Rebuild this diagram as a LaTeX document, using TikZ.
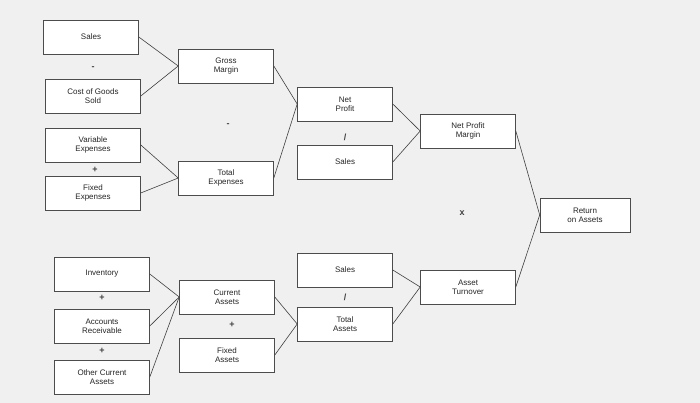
\documentclass[tikz,border=0pt]{standalone}
\usepackage{fontspec}
\setmainfont{Liberation Sans}
\begin{document}
\begin{tikzpicture}[x=1pt,y=-1pt,
  bx/.style={draw=black!70,fill=white,line width=0.6pt,minimum width=95pt,minimum height=34pt,align=center,font=\fontsize{8}{9}\selectfont,text=black!85,inner sep=1pt},
  op/.style={font=\fontsize{9}{9}\selectfont\bfseries,text=black!75},
  ln/.style={draw=black!75,line width=0.6pt}]
\fill[black!6] (0,0) rectangle (700,403);
\useasboundingbox (0,0) rectangle (700,403);
\node[bx] (sales) at (91,37) {Sales};
\node[bx] (cogs) at (93,96) {Cost of Goods\\Sold};
\node[bx] (gm) at (226,66) {Gross\\Margin};
\node[bx] (np) at (345,104) {Net\\Profit};
\node[bx] (ve) at (93,145) {Variable\\Expenses};
\node[bx] (fe) at (93,193) {Fixed\\Expenses};
\node[bx] (te) at (226,178) {Total\\Expenses};
\node[bx] (s2) at (345,162) {Sales};
\node[bx] (npm) at (468,131) {Net Profit\\Margin};
\node[bx,minimum width=90pt] (roa) at (585,215) {Return\\on Assets};
\node[bx] (inv) at (102,274) {Inventory};
\node[bx] (ar) at (102,326) {Accounts\\Receivable};
\node[bx] (oca) at (102,377) {Other Current\\Assets};
\node[bx] (ca) at (227,297) {Current\\Assets};
\node[bx] (fa) at (227,355) {Fixed\\Assets};
\node[bx] (s3) at (345,270) {Sales};
\node[bx] (ta) at (345,324) {Total\\Assets};
\node[bx] (at) at (468,287) {Asset\\Turnover};
\node[op] (o1) at (93,68) {-};
\node[op] (o2) at (228,125) {-};
\node[op] (o3) at (95,170) {+};
\node[op] (o4) at (345,137) {/};
\node[op] (o5) at (462,213) {x};
\node[op] (o6) at (102,298) {+};
\node[op] (o7) at (102,351) {+};
\node[op] (o8) at (232,325) {+};
\node[op] (o9) at (345,297) {/};
\draw[ln] (sales.east) -- (gm.west) -- (cogs.east);
\draw[ln] (ve.east) -- (te.west) -- (fe.east);
\draw[ln] (gm.east) -- (np.west) -- (te.east);
\draw[ln] (np.east) -- (npm.west) -- (s2.east);
\draw[ln] (npm.east) -- (roa.west) -- (at.east);
\draw[ln] (inv.east) -- (ca.west) -- (ar.east);
\draw[ln] (oca.east) -- (ca.west);
\draw[ln] (ca.east) -- (ta.west) -- (fa.east);
\draw[ln] (s3.east) -- (at.west) -- (ta.east);
\end{tikzpicture}
\end{document}
